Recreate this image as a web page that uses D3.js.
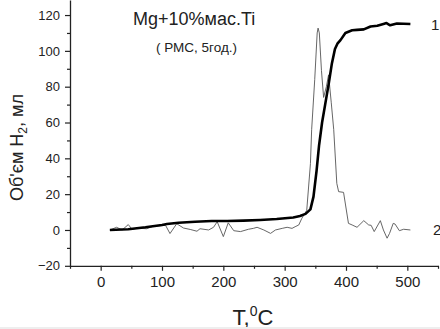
<!DOCTYPE html>
<html>
<head>
<meta charset="utf-8">
<script src="https://cdnjs.cloudflare.com/ajax/libs/d3/7.8.5/d3.min.js"></script>
<style>
  body { margin: 0; background: #fff; }
  svg { display: block; font-family: "Liberation Sans", Arial, sans-serif; }
</style>
</head>
<body>
<div id="chart"></div>
<script>
// curve 1: total hydrogen volume (thick)
const temp1 = [15, 45, 73, 100, 108, 127, 154, 181, 206, 233, 260, 287, 314, 325, 334, 342, 347, 352, 356, 361, 366, 372, 377, 382, 386, 391, 399, 410, 418, 429, 440, 451, 461, 466, 472, 483, 505];
const vol1 = [0, 0.4, 1.5, 2.8, 3.3, 4, 4.6, 5, 5, 5.2, 5.6, 6.1, 7, 7.8, 9, 11.5, 18.6, 33, 47, 60, 70, 82, 93, 101, 104, 106, 110, 111.5, 111.7, 112, 113.6, 114, 115, 115.5, 114.3, 115.3, 115];

// curve 2: desorption rate (thin)
const temp2 = [15, 26, 35, 45, 51, 60, 75, 85, 100, 106, 113, 124, 135, 146, 157, 162, 176, 184, 190, 200, 208, 217, 228, 241, 249, 255, 266, 277, 285, 296, 304, 312, 317, 323, 328, 336, 342, 344, 349, 353, 354.5, 356.5, 360, 363.5, 368, 371.6, 376, 380, 385, 388, 396, 404, 410, 418, 429, 437, 441, 446, 456, 461, 467, 471, 477, 480, 487, 494, 505];
const vol2 = [0, 1.5, 0, 3, 0.5, 1, 0.7, 2, 2.5, 2.5, -2, 3.5, 1.1, 0.3, -0.7, 0.7, 0, 1.5, 4.6, -3.7, 4, -0.4, -0.9, 0.4, 0.9, 1.5, 0, -1.9, 0, 0.9, 1.5, 0.9, 1.8, 2.8, 6.5, 11, 37, 56, 84, 110, 112.7, 110, 89, 74, 80, 86.6, 71, 56, 26, 21.4, 21, 3.7, 2.8, 1.5, 5.2, 2.8, 2.6, -0.9, 5.2, 0, -4.6, -1.9, 3.7, 3.3, -0.4, 0.4, 0];

const yTicks = [-20, 0, 20, 40, 60, 80, 100, 120];
const xTicks = [0, 100, 200, 300, 400, 500];

const W = 440, H = 329;

const svg = d3.select("#chart")
    .append("svg")
    .attr("width", W)
    .attr("height", H);

const x = d3.scaleLinear().domain([-50, 550]).range([70, 438]);
const y = d3.scaleLinear().domain([-20, 128.4]).range([265.8, 0]);

// minor ticks
svg.append("g")
    .attr("transform", `translate(0,${y(-20)})`)
    .call(d3.axisBottom(x).tickValues(d3.range(-50, 551, 100)).tickSize(3).tickFormat(""))
    .call(g => g.select(".domain").remove());

svg.append("g")
    .attr("transform", `translate(${x(-50)},0)`)
    .call(d3.axisLeft(y).tickValues(d3.range(-10, 121, 20)).tickSize(3).tickFormat(""))
    .call(g => g.select(".domain").remove());

// x axis
const xAxis = svg.append("g")
    .attr("transform", `translate(0,${y(-20)})`)
    .call(d3.axisBottom(x).tickValues(xTicks).tickSize(5).tickPadding(6).tickSizeOuter(0));
xAxis.selectAll("text").attr("font-size", 15).attr("fill", "#222");

// y axis
const yAxis = svg.append("g")
    .attr("transform", `translate(${x(-50)},0)`)
    .call(d3.axisLeft(y).tickValues(yTicks).tickSize(5).tickPadding(5).tickSizeOuter(0));
yAxis.selectAll("text").attr("font-size", 13).attr("fill", "#222");

svg.selectAll(".domain").attr("stroke", "#222").attr("stroke-width", 1.3);
svg.selectAll(".tick line").attr("stroke", "#222").attr("stroke-width", 1.2);

// lines
const line = d3.line().x(d => x(d[0])).y(d => y(d[1]));

svg.append("path")
    .datum(d3.zip(temp2, vol2))
    .attr("fill", "none")
    .attr("stroke", "#555")
    .attr("stroke-width", 0.9)
    .attr("d", line);

svg.append("path")
    .datum(d3.zip(temp1, vol1))
    .attr("fill", "none")
    .attr("stroke", "#000")
    .attr("stroke-width", 2.6)
    .attr("stroke-linejoin", "round")
    .attr("d", line);

// curve labels
svg.append("text").attr("x", 431).attr("y", 30).attr("font-size", 15).attr("fill", "#222").text("1");
svg.append("text").attr("x", 433).attr("y", 235).attr("font-size", 15).attr("fill", "#222").text("2");

// titles
svg.append("text")
    .attr("x", 133).attr("y", 25)
    .attr("font-size", 18).attr("fill", "#222")
    .text("Mg+10%мас.Ti");

svg.append("text")
    .attr("x", 156).attr("y", 52)
    .attr("font-size", 13.5).attr("fill", "#222")
    .text("( РМС, 5год.)");

// axis titles
const xt = svg.append("text")
    .attr("x", 253).attr("y", 325)
    .attr("font-size", 22).attr("fill", "#222")
    .attr("text-anchor", "middle");
xt.append("tspan").text("T,");
xt.append("tspan").attr("font-size", 14).attr("dy", -9).text("0");
xt.append("tspan").attr("dy", 9).text("C");

const yt = svg.append("text")
    .attr("transform", "translate(23,147.5) rotate(-90)")
    .attr("font-size", 18).attr("fill", "#222")
    .attr("text-anchor", "middle");
yt.append("tspan").text("Об'єм H");
yt.append("tspan").attr("font-size", 12).attr("dy", 4).text("2");
yt.append("tspan").attr("dy", -4).text(", мл");

// light strip at bottom edge
svg.append("rect").attr("x", 0).attr("y", 327).attr("width", W).attr("height", 2).attr("fill", "#eee");
</script>
</body>
</html>
